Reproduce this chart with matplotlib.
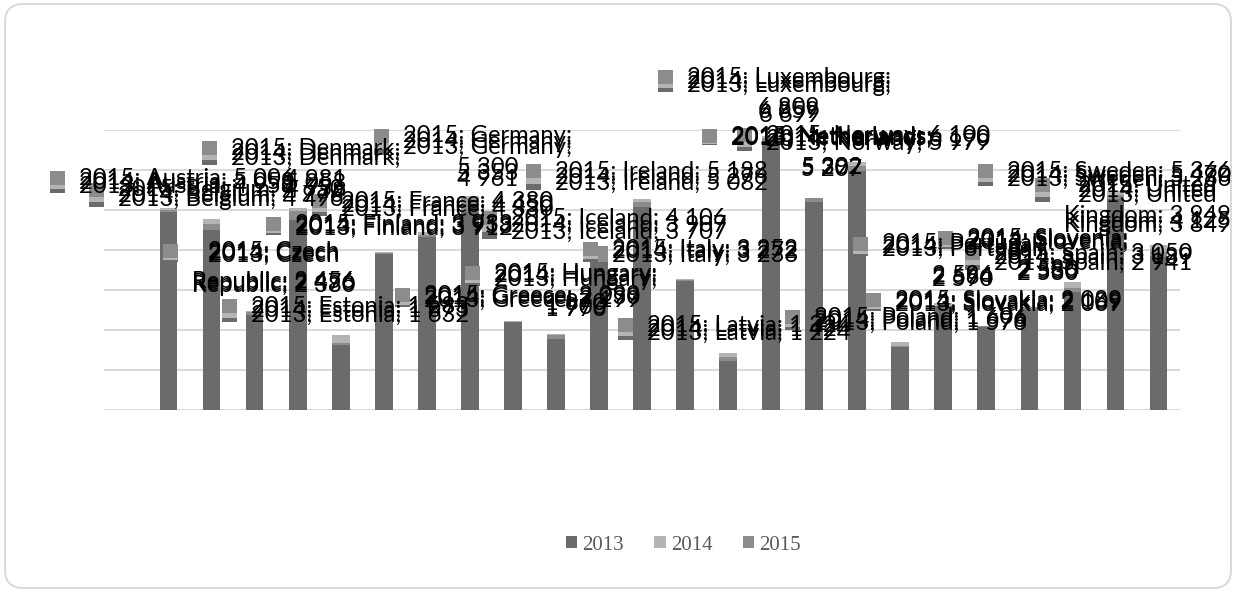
import matplotlib
matplotlib.use("Agg")
import matplotlib.pyplot as plt
from matplotlib.patches import Rectangle, FancyBboxPatch, Patch
from matplotlib.font_manager import FontProperties
from matplotlib.transforms import Affine2D

# ---------------- data ----------------
countries = ["Austria", "Belgium", "Czech Republic", "Denmark", "Estonia", "Finland",
             "France", "Germany", "Greece", "Hungary", "Iceland", "Ireland", "Italy",
             "Latvia", "Luxembourg", "Netherlands", "Norway", "Poland", "Portugal",
             "Slovakia", "Slovenia", "Spain", "Sweden", "United Kingdom"]
years = ["2013", "2014", "2015"]
v2013 = [4958, 4496, 2380, 4756, 1632, 3912, 4330, 4961, 2199, 1776, 3707, 5082,
         3233, 1224, 6699, 5207, 5979, 1576, 2590, 2069, 2530, 2941, 5266, 3849]
v2014 = [5058, 4776, 2476, 5058, 1873, 3958, 4450, 5353, 2230, 1900, 3907, 5276,
         3272, 1424, 6859, 5302, 6190, 1696, 2664, 2109, 2586, 3189, 5470, 4125]
v2015 = [5006, 4650, 2456, 4981, 1683, 3933, 4380, 5300, 2099, 1870, 4106, 5188,
         3252, 1324, 6809, 5292, 6100, 1606, 2596, 2089, 2580, 3050, 5366, 3949]

# ---------------- style / layout ----------------
W, H = 1236, 592
colors = {"2013": "#6b6b6b", "2014": "#b4b4b4", "2015": "#8c8c8c"}
values = {"2013": v2013, "2014": v2014, "2015": v2015}

# label placement (pixel coords from top-left): key x, key y (2015 label), vertical step per series
label_pos = [(50, 171, 4), (89, 183, 5), (163, 244, 2), (202, 141, 5), (222, 299, 4.5),
             (266, 217, 2), (312, 194, 4), (374, 129, 6), (395, 288, 2.5), (465, 266, 3),
             (482, 211, 7), (526, 164, 6), (583, 242, 3), (618, 318, 4), (658, 70, 4),
             (702, 129, 1), (737, 128, 4.5), (785, 310, 3), (853, 237, 2.5), (866, 293, 2),
             (938, 231, 2), (965, 246, 5), (978, 164, 4), (1035, 178, 5)]
# 0: single line, 1: break inside the name, 2: break before value
wrap_mode = {"Czech Republic": 1, "United Kingdom": 1, "Denmark": 2, "Germany": 2,
             "Hungary": 2, "Luxembourg": 2, "Netherlands": 2, "Portugal": 2, "Slovenia": 2}

fig = plt.figure(figsize=(W / 100, H / 100), dpi=100)
fig.patch.set_facecolor("white")
px = Affine2D().scale(1 / W, -1 / H).translate(0, 1) + fig.transFigure

ax = fig.add_axes([104 / W, (H - 410) / H, 1076 / W, 280 / H])
ax.set_xlim(-1.5, len(countries) - 0.5)
ax.set_ylim(0, 7000)
ax.set_yticks(range(0, 7001, 1000))
ax.yaxis.grid(True, color="#d9d9d9", lw=1.4)
ax.set_axisbelow(True)
for s in ax.spines.values():
    s.set_visible(False)
ax.tick_params(left=False, bottom=False, labelleft=False, labelbottom=False)
ax.set_facecolor("none")

xs = list(range(len(countries)))
for z, yr in enumerate(["2014", "2015", "2013"]):
    ax.bar(xs, values[yr], width=0.41, color=colors[yr], linewidth=0, zorder=2 + z)

# ---------------- data labels ----------------
renderer = fig.canvas.get_renderer()


def text_w(s, prop):
    w, h, d = renderer.get_text_width_height_descent(s, prop, ismath=False)
    return w


fam = ["Lato", "DejaVu Sans"]
fp10 = FontProperties(family=fam, size=10)
size = 10 * 213 / text_w("2015; Ireland; 5 276", fp10)
fp = FontProperties(family=fam, size=size)


def label_lines(yr, name, val):
    v = f"{val:,}".replace(",", " ")
    mode = wrap_mode.get(name, 0)
    if mode == 0:
        return [f"{yr}; {name}; {v}"]
    if mode == 1:
        a, b = name.split(" ", 1)
        return [f"{yr}; {a}", f"{b}; {v}"]
    return [f"{yr}; {name};", v]


LINE = 31
for i, name in enumerate(countries):
    kx, ky, step = label_pos[i]
    for j, yr in enumerate(years):
        off = (2 - j) * step
        fig.patches.append(Rectangle((kx, ky + off), 15, 14, transform=px,
                                     facecolor=colors[yr], linewidth=0, zorder=2))
        lines = label_lines(yr, name, values[yr][i])
        bw = max(text_w(l, fp) for l in lines)
        cx = kx + 29 + bw / 2
        for li, l in enumerate(lines):
            fig.text(cx, ky + off + 7 + li * LINE, l, transform=px, ha="center",
                     va="center", fontproperties=fp, color="black", zorder=3)

# ---------------- legend ----------------
handles = [Patch(facecolor=colors[y], edgecolor="none") for y in years]
fig.legend(handles, years, loc="center", bbox_to_anchor=(683.5 / W, (H - 545) / H),
           ncol=3, frameon=False,
           prop=FontProperties(family=["Liberation Serif", "DejaVu Serif"], size=15),
           handlelength=0.55, handleheight=0.55, handletextpad=0.25, columnspacing=1.45,
           labelcolor="#595959")

# ---------------- outer frame ----------------
fig.patches.append(FancyBboxPatch((5, 4), 1226, 584, boxstyle="round,pad=0,rounding_size=18",
                                  transform=px, fill=False, edgecolor="#d9d9d9", lw=1.4))

fig.savefig("out.png", dpi=100)
